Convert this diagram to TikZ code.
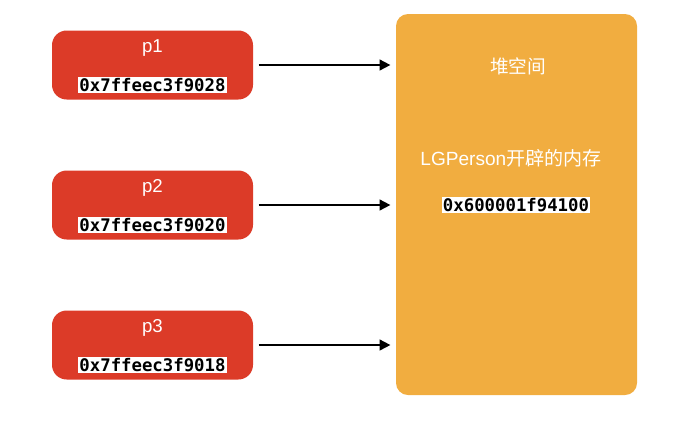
\documentclass[tikz,border=0pt]{standalone}
\usepackage{fontspec}
\setmainfont{Liberation Sans}
\setmonofont{DejaVu Sans Mono}
\newfontfamily\cjk{Noto Sans CJK SC}
\usepackage{xcolor}
\usetikzlibrary{arrows.meta}
\definecolor{ptrred}{RGB}{220,59,40}
\definecolor{heaporange}{RGB}{241,173,64}
\tikzset{
    ptrbox/.style={fill=ptrred,rounded corners=11pt,minimum width=150.75pt,minimum height=51.75pt,inner sep=0pt},
    ptrname/.style={text=white,font=\fontsize{14}{16}\selectfont},
    addr/.style={fill=white,inner sep=1pt,font=\fontsize{13}{15}\selectfont\ttfamily\bfseries},
    heapbox/.style={fill=heaporange,rounded corners=9pt,minimum width=180.75pt,minimum height=285.75pt,inner sep=0pt}
}
\begin{document}
\begin{tikzpicture}[x=0.75pt,y=-0.75pt]
        \useasboundingbox (0,0) rectangle (681,426);
        \node[heapbox] (heap) at (516.5,204.5) {};
        \node[text=white,font=\fontsize{14}{16}\selectfont\cjk] (heaptitle) at (518,66) {堆空间};
        \node[text=white,font=\fontsize{14.3}{16}\selectfont] (heapobj) at (511,158) {LGPerson{\cjk 开辟的内存}};
        \node[addr] (heapaddr) at (516,205) {0x600001f94100};
        \foreach \i/\y/\a in {1/65/0x7ffeec3f9028,2/205/0x7ffeec3f9020,3/345/0x7ffeec3f9018}{
            \node[ptrbox] (p\i) at (152.5,\y) {};
            \node[ptrname] (p\i name) at (152.5,\y-17) {p\i};
            \node[addr] (p\i addr) at (152.5,\y+20) {\a};
            \draw[-{Triangle[length=8pt,width=8pt]},line width=1.3pt,shorten <=4pt,shorten >=4pt] (p\i.east) -- (heap.west |- p\i.east);
        }
    \end{tikzpicture}
\end{document}
